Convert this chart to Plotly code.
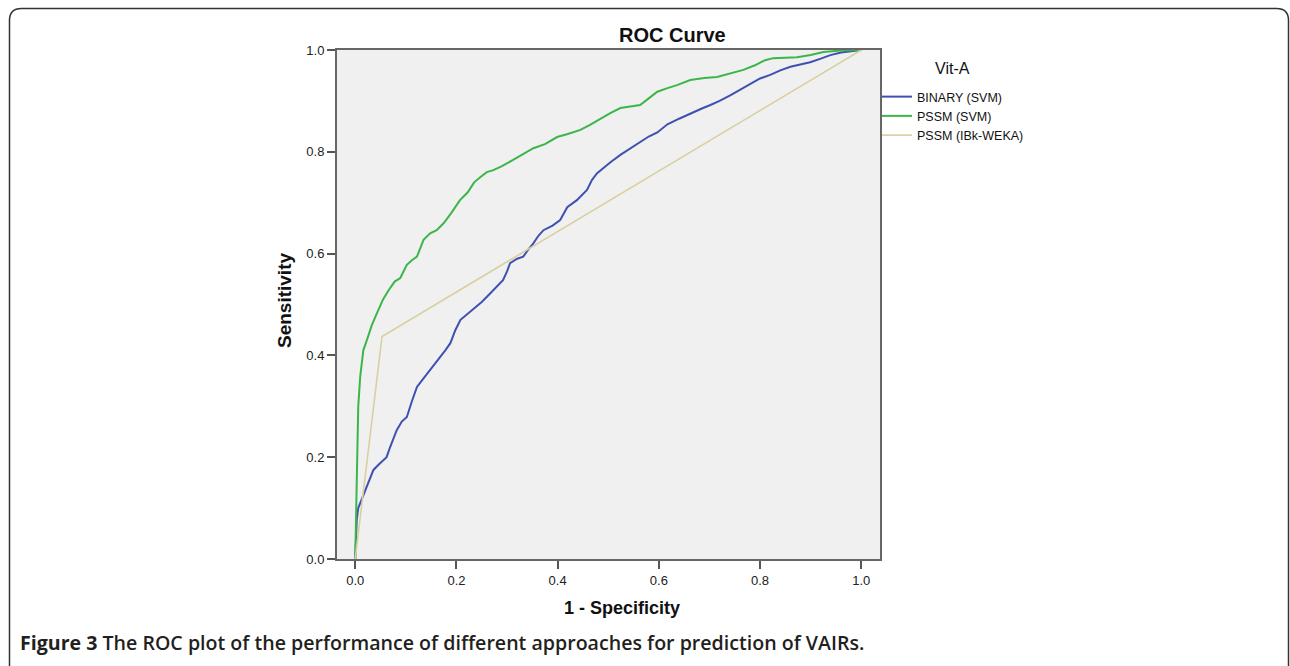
import plotly.graph_objects as go

# ---- data ----
binary_svm_x = [0, 0.001, 0.003, 0.006, 0.01, 0.016, 0.023, 0.03, 0.036, 0.046, 0.056, 0.062, 0.069, 0.076,
                0.082, 0.092, 0.102, 0.112, 0.122, 0.135, 0.148, 0.158, 0.168, 0.178, 0.188, 0.198, 0.208,
                0.22, 0.233, 0.25, 0.267, 0.28, 0.292, 0.3, 0.306, 0.32, 0.332, 0.342, 0.352, 0.362, 0.372,
                0.39, 0.405, 0.419, 0.438, 0.458, 0.468, 0.478, 0.49, 0.505, 0.524, 0.545, 0.563, 0.58,
                0.597, 0.617, 0.64, 0.668, 0.685, 0.702, 0.72, 0.741, 0.765, 0.787, 0.8, 0.82, 0.84, 0.86,
                0.88, 0.899, 0.92, 0.939, 0.96, 0.98, 1.0]
binary_svm_y = [0, 0.04, 0.077, 0.1, 0.11, 0.125, 0.142, 0.16, 0.175, 0.185, 0.194, 0.2, 0.22, 0.24,
                0.253, 0.27, 0.279, 0.31, 0.338, 0.355, 0.371, 0.385, 0.397, 0.41, 0.424, 0.45, 0.47,
                0.48, 0.489, 0.505, 0.522, 0.535, 0.548, 0.565, 0.581, 0.59, 0.594, 0.608, 0.62, 0.635,
                0.646, 0.655, 0.666, 0.691, 0.705, 0.725, 0.745, 0.758, 0.768, 0.78, 0.794, 0.808, 0.819,
                0.83, 0.838, 0.854, 0.865, 0.878, 0.885, 0.892, 0.9, 0.911, 0.925, 0.937, 0.944, 0.951,
                0.96, 0.967, 0.972, 0.976, 0.983, 0.99, 0.995, 0.998, 1.0]

pssm_svm_x = [0, 0.002, 0.003, 0.006, 0.01, 0.016, 0.023, 0.033, 0.043, 0.055, 0.066, 0.078, 0.089, 0.102,
              0.112, 0.122, 0.135, 0.148, 0.161, 0.175, 0.19, 0.207, 0.222, 0.235, 0.247, 0.26, 0.273,
              0.29, 0.312, 0.33, 0.352, 0.375, 0.399, 0.42, 0.445, 0.464, 0.484, 0.504, 0.524, 0.545,
              0.563, 0.58, 0.597, 0.617, 0.636, 0.662, 0.69, 0.715, 0.74, 0.767, 0.79, 0.81, 0.826, 0.85,
              0.873, 0.9, 0.925, 0.96, 1.0]
pssm_svm_y = [0, 0.1, 0.208, 0.3, 0.36, 0.41, 0.43, 0.46, 0.483, 0.51, 0.528, 0.545, 0.552, 0.578,
              0.587, 0.594, 0.627, 0.64, 0.646, 0.66, 0.68, 0.705, 0.72, 0.74, 0.75, 0.76, 0.764,
              0.772, 0.784, 0.795, 0.807, 0.815, 0.829, 0.835, 0.843, 0.853, 0.865, 0.876, 0.886, 0.89,
              0.892, 0.905, 0.918, 0.925, 0.931, 0.941, 0.945, 0.947, 0.953, 0.961, 0.97, 0.98, 0.984,
              0.985, 0.986, 0.99, 0.996, 0.999, 1.0]

pssm_ibk_x = [0, 0.053, 1.0]
pssm_ibk_y = [0, 0.437, 1.0]

series_names = ["BINARY (SVM)", "PSSM (SVM)", "PSSM (IBk-WEKA)"]
tick_vals = [0.0, 0.2, 0.4, 0.6, 0.8, 1.0]
tick_text = ["0.0", "0.2", "0.4", "0.6", "0.8", "1.0"]

# ---- layout geometry (pixels) ----
W, H = 1290, 666
L, R, T, B = 337, 880, 50, 559
pw, ph = R - L, B - T


def px(x):
    return (x - L) / pw


def py(y):
    return (B - y) / ph


ARIAL = "Liberation Sans, Arial"

fig = go.Figure()
colors = ["#3f51b0", "#3cb54a", "#d8d0a0"]
widths = [2, 2, 1.6]
for xs, ys, name, c, w in zip([binary_svm_x, pssm_svm_x, pssm_ibk_x],
                              [binary_svm_y, pssm_svm_y, pssm_ibk_y],
                              series_names, colors, widths):
    fig.add_trace(go.Scatter(x=xs, y=ys, mode="lines", name=name,
                             line=dict(color=c, width=w)))

axis_common = dict(showgrid=False, zeroline=False, ticks="outside", ticklen=8,
                   tickcolor="#555", tickwidth=1.5, showline=True, linecolor="#666",
                   linewidth=2, mirror=True,
                   tickfont=dict(family=ARIAL, size=13, color="#222"),
                   tickvals=tick_vals, ticktext=tick_text)

fig.update_layout(
    width=W, height=H,
    margin=dict(l=L, r=W - R, t=T, b=H - B, pad=0),
    paper_bgcolor="white", plot_bgcolor="#f0f0f0",
    xaxis=dict(range=[-0.036, 1.037], **axis_common),
    yaxis=dict(range=[0, 1], **axis_common),
    showlegend=True,
    legend=dict(x=px(877), y=py(82), xanchor="left", yanchor="top",
                bgcolor="rgba(0,0,0,0)",
                font=dict(family=ARIAL, size=12.5, color="#111"),
                tracegroupgap=0, itemwidth=30),
)

# legend title
fig.add_annotation(text="Vit-A", xref="paper", yref="paper",
                   x=px(952), y=py(68), xanchor="center", yanchor="middle",
                   showarrow=False, font=dict(family=ARIAL, size=16, color="#111"))

# chart title
fig.add_annotation(text="<b>ROC Curve</b>", xref="paper", yref="paper",
                   x=px(672), y=py(35), xanchor="center", yanchor="middle",
                   showarrow=False, font=dict(family=ARIAL, size=20, color="#111"))

# axis titles
fig.add_annotation(text="<b>1 - Specificity</b>", xref="paper", yref="paper",
                   x=px(622), y=py(608), xanchor="center", yanchor="middle",
                   showarrow=False, font=dict(family=ARIAL, size=18, color="#111"))
fig.add_annotation(text="<b>Sensitivity</b>", xref="paper", yref="paper",
                   x=px(284), y=py(301), xanchor="center", yanchor="middle",
                   textangle=-90, showarrow=False,
                   font=dict(family=ARIAL, size=19, color="#111"))

# caption
fig.add_annotation(text="<b>Figure 3</b> The ROC plot of the performance of different approaches for prediction of VAIRs.",
                   xref="paper", yref="paper", x=px(18), y=py(642),
                   xanchor="left", yanchor="middle", showarrow=False,
                   font=dict(family="Open Sans", size=19.6, color="#231f20", weight=600))

# rounded frame around the figure
r = 12
x0, y0, x1, y1 = 9.5, 8.5, 1288.5, 700
path = (f"M {px(x0)},{py(y1)} L {px(x0)},{py(y0 + r)} "
        f"Q {px(x0)},{py(y0)} {px(x0 + r)},{py(y0)} "
        f"L {px(x1 - r)},{py(y0)} Q {px(x1)},{py(y0)} {px(x1)},{py(y0 + r)} "
        f"L {px(x1)},{py(y1)}")
fig.add_shape(type="path", path=path, xref="paper", yref="paper",
              line=dict(color="#333", width=1.5), layer="above")

fig.write_html("out.html")
